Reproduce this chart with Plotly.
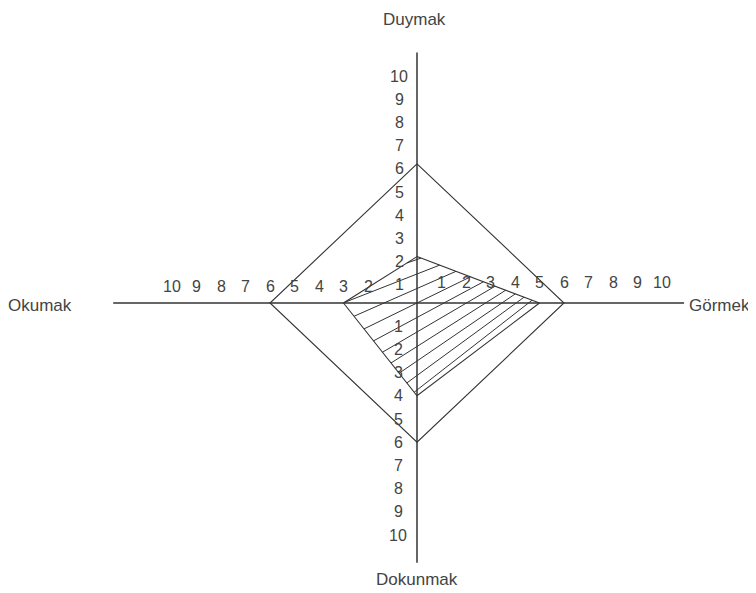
import plotly.graph_objects as go

# ---------------- donnees ----------------
eksenler = ["Duymak", "Görmek", "Dokunmak", "Okumak"]   # haut, droite, bas, gauche
dis_deger = [6, 6, 6, 6]        # grand losange
ic_deger = [2, 5, 4, 3]         # polygone hachuré

ticks_haut = [1, 2, 3, 4, 5, 6, 7, 8, 9, 10]
ticks_bas = [1, 2, 3, 4, 5, 6, 7, 8, 9, 10]
ticks_gauche = [2, 3, 4, 5, 6, 7, 8, 9, 10]
ticks_droite = [1, 2, 3, 4, 5, 6, 7, 8, 9, 10]

# ---------------- mise en page ----------------
MARGE_BODY = 8                      # marge par défaut du <body>
W, H = 756 - MARGE_BODY, 593 - MARGE_BODY
CX, CY = 417 - MARGE_BODY, 303 - MARGE_BODY   # croisement des axes (px)
SX, SY = 24.5, 23.2        # px par unité
AX_G, AX_D = -12.4, 10.9   # longueur des axes (unités)
AX_H, AX_B = 10.8, -11.2
FUITE = (12.2, 6.3)        # point de fuite des hachures (unités)
PAS_H = 14.5 / SY          # écart des hachures sur l'axe vertical
COUL = "#333333"
TXT = "#444444"
POLICE = "Liberation Sans, Arial, sans-serif"


def sommets(v):
    # haut, droite, bas, gauche -> x, y fermés
    xs = [0, v[1], 0, -v[3], 0]
    ys = [v[0], 0, -v[2], 0, v[0]]
    return xs, ys


def couper(pts, pente, c):
    # segment de y = pente*x + c à l'intérieur du polygone convexe
    inter = []
    for (x1, y1), (x2, y2) in zip(pts[:-1], pts[1:]):
        f1 = y1 - pente * x1 - c
        f2 = y2 - pente * x2 - c
        if f1 == f2 or f1 * f2 > 0:
            continue
        t = f1 / (f1 - f2)
        inter.append(x1 + t * (x2 - x1))
    if len(inter) < 2 or max(inter) - min(inter) < 1e-6:
        return None
    return min(inter), max(inter)


def hachures(xs, ys):
    # lignes en éventail passant par le point de fuite
    pts = list(zip(xs, ys))
    hx, hy = [], []
    k0 = int(min(ys) // PAS_H) - 1
    k1 = int(max(ys) // PAS_H) + 1
    for k in range(k0, k1 + 1):
        c = k * PAS_H
        pente = (FUITE[1] - c) / FUITE[0]
        seg = couper(pts, pente, c)
        if seg is None:
            continue
        a, b = seg
        hx += [a, b, None]
        hy += [pente * a + c, pente * b + c, None]
    return hx, hy


fig = go.Figure()

ox, oy = sommets(dis_deger)
fig.add_trace(go.Scatter(x=ox, y=oy, mode="lines",
                         line=dict(color=COUL, width=1.1), hoverinfo="skip"))

ix, iy = sommets(ic_deger)
hx, hy = hachures(ix, iy)
fig.add_trace(go.Scatter(x=hx, y=hy, mode="lines",
                         line=dict(color=COUL, width=1), hoverinfo="skip"))
fig.add_trace(go.Scatter(x=ix, y=iy, mode="lines",
                         line=dict(color=COUL, width=1.1), hoverinfo="skip"))

# axes
fig.add_shape(type="line", x0=AX_G, x1=AX_D, y0=0, y1=0,
              line=dict(color=COUL, width=1.5))
fig.add_shape(type="line", x0=0, x1=0, y0=AX_B, y1=AX_H,
              line=dict(color=COUL, width=1.5))

annot = []
for k in ticks_haut:
    annot.append(dict(x=0, y=k, text=str(k), xshift=-18, yshift=-5))
for k in ticks_bas:
    annot.append(dict(x=0, y=-k, text=str(k), xshift=-19))
for k in ticks_gauche:
    annot.append(dict(x=-k, y=0, text=str(k), yshift=17))
for k in ticks_droite:
    annot.append(dict(x=k, y=0, text=str(k), yshift=21))
for a in annot:
    a.update(xref="x", yref="y", showarrow=False,
             font=dict(family=POLICE, size=16, color=TXT))

lab_font = dict(family=POLICE, size=17, color=TXT)
annot += [
    dict(x=0, y=1, xref="x", yref="paper", text=eksenler[0], showarrow=False,
         yanchor="top", yshift=0, xshift=-3, font=lab_font),
    dict(x=AX_D, y=0, xref="x", yref="y", text=eksenler[1], showarrow=False,
         xanchor="left", xshift=3, yshift=-2, font=lab_font),
    dict(x=0, y=0, xref="x", yref="paper", text=eksenler[2], showarrow=False,
         yanchor="bottom", yshift=2, font=lab_font),
    dict(x=0, y=0, xref="paper", yref="y", text=eksenler[3], showarrow=False,
         xanchor="left", xshift=-2, yshift=-2, font=lab_font),
]

fig.update_layout(
    width=W, height=H,
    margin=dict(l=0, r=0, t=0, b=0),
    paper_bgcolor="white", plot_bgcolor="white",
    showlegend=False,
    annotations=annot,
    xaxis=dict(range=[-CX / SX, (W - CX) / SX], visible=False, fixedrange=True),
    yaxis=dict(range=[-(H - CY) / SY, CY / SY], visible=False, fixedrange=True),
)

fig.write_html("out.html")
